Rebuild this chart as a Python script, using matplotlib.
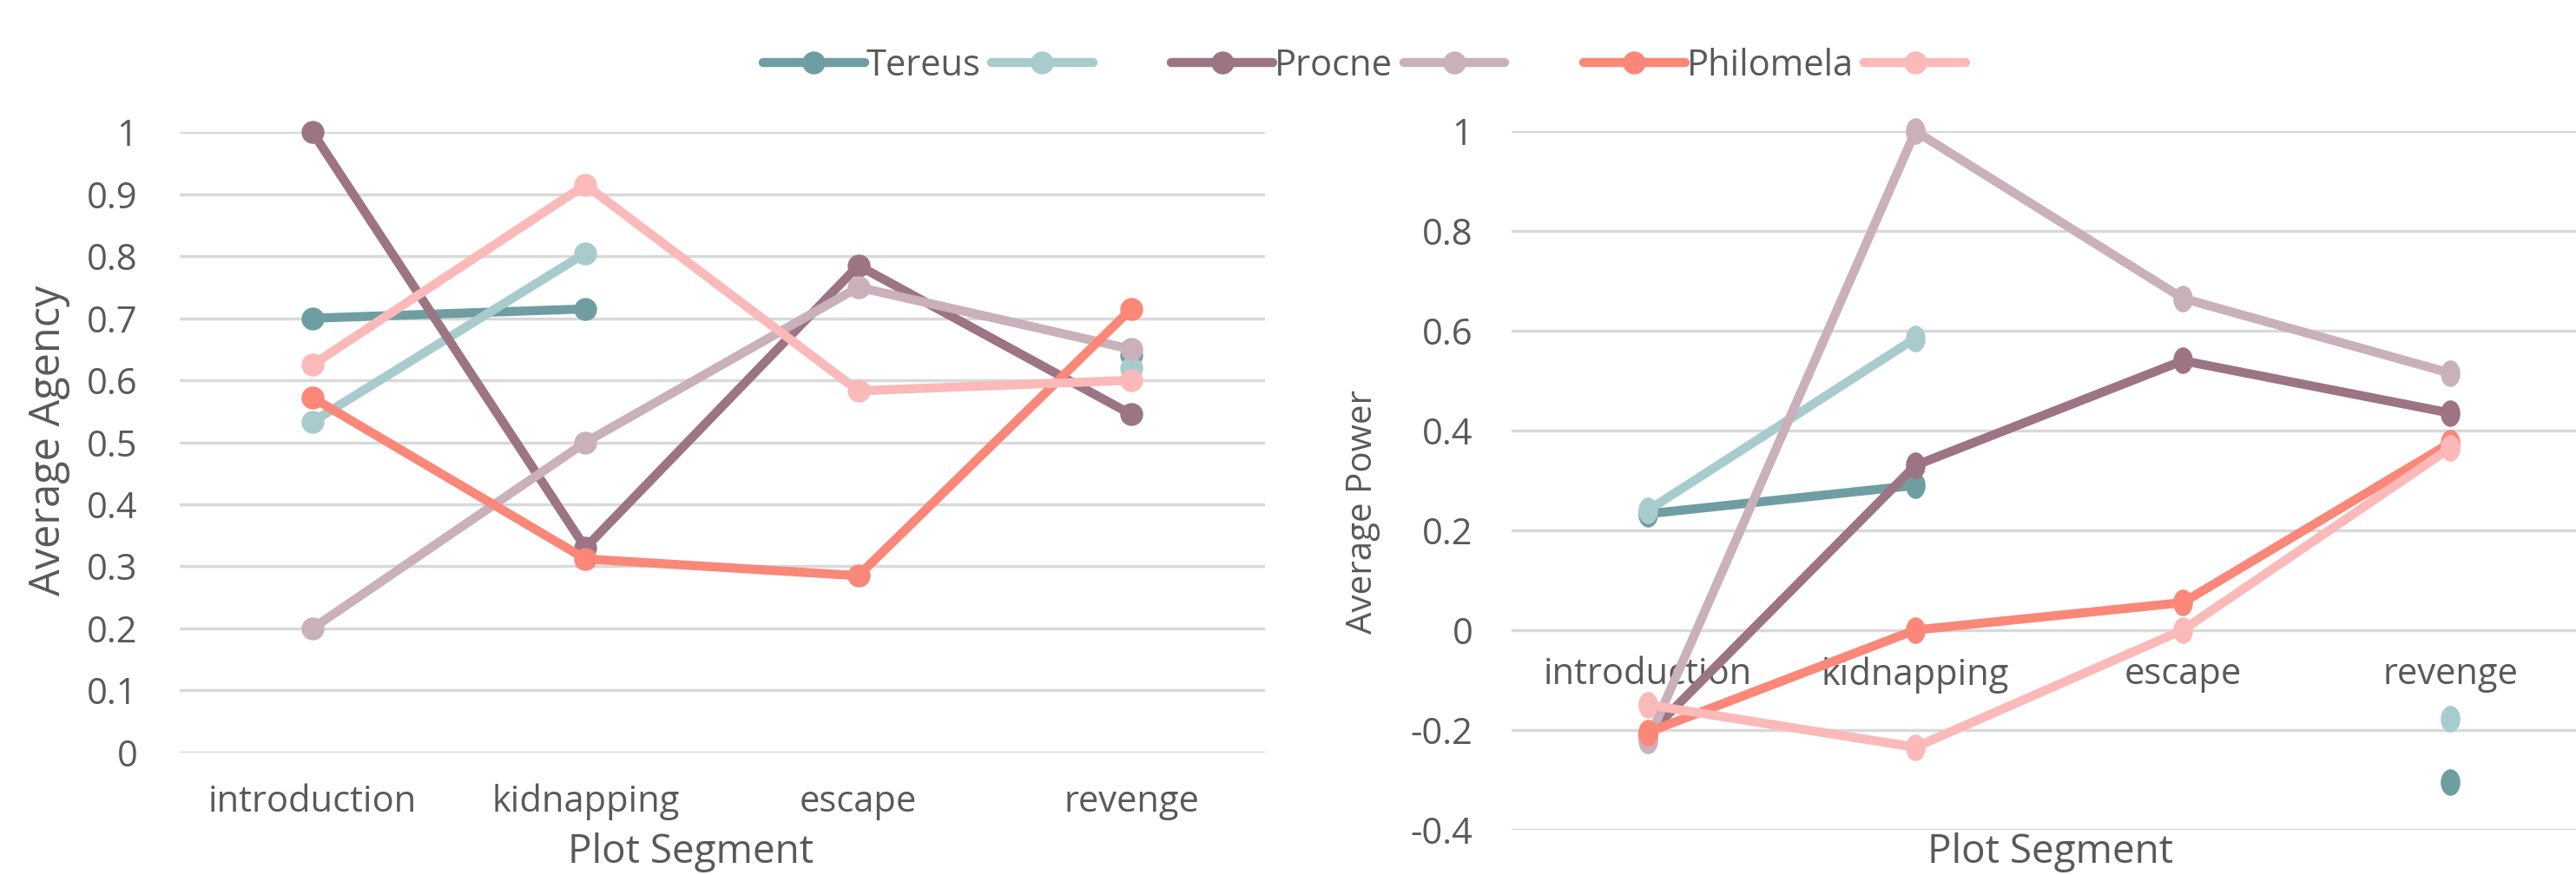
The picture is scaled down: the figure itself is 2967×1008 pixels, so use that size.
import numpy as np
import matplotlib.pyplot as plt
from matplotlib.path import Path

plt.rcParams['font.family'] = ['Open Sans', 'DejaVu Sans']

segments = ['introduction', 'kidnapping', 'escape', 'revenge']
names = ['Tereus', '       ', 'Procne', '       ', 'Philomela', '']
colors = ['#6E9EA2', '#A8CBCE', '#9C7484', '#C9B0BA', '#FA8778', '#FBB9B9']

# average agency per plot segment (nan = no data)
agency_tereus = [0.70, 0.715, np.nan, 0.64]
agency_tereus_lt = [0.533, 0.805, np.nan, 0.62]
agency_procne = [1.0, 0.33, 0.785, 0.545]
agency_procne_lt = [0.20, 0.50, 0.75, 0.65]
agency_phil = [0.572, 0.312, 0.285, 0.715]
agency_phil_lt = [0.625, 0.915, 0.583, 0.60]

# average power per plot segment
power_tereus = [0.233, 0.29, np.nan, -0.305]
power_tereus_lt = [0.24, 0.585, np.nan, -0.178]
power_procne = [-0.21, 0.33, 0.54, 0.435]
power_procne_lt = [-0.222, 1.0, 0.665, 0.515]
power_phil = [-0.205, 0.0, 0.055, 0.375]
power_phil_lt = [-0.15, -0.235, 0.0, 0.365]

agency = [agency_tereus, agency_tereus_lt, agency_procne, agency_procne_lt, agency_phil, agency_phil_lt]
power = [power_tereus, power_tereus_lt, power_procne, power_procne_lt, power_phil, power_phil_lt]

txt = '#595959'
grid = '#D9D9D9'
x = np.arange(len(segments))

# slightly tall markers on the right chart (it is squashed sideways)
uc = Path.unit_circle()
tall = Path(uc.vertices * np.array([0.8, 1.1]), uc.codes)

fig = plt.figure(figsize=(29.67, 10.08), dpi=100)
ax1 = fig.add_axes([0.0698, 0.140, 0.4213, 0.709])
ax2 = fig.add_axes([0.5868, 0.052, 0.4132, 0.798])

lines = []
for vals, c in zip(agency, colors):
    l, = ax1.plot(x, vals, color=c, lw=7.5, marker='o', ms=18, clip_on=False,
                  solid_capstyle='round')
    lines.append(l)
for vals, c in zip(power, colors):
    ax2.plot(x, vals, color=c, lw=7.5, marker=tall, ms=21, clip_on=False,
             solid_capstyle='round')

ax1.set_xlim(-0.486, 3.49)
ax1.set_ylim(0, 1)
ax1.set_yticks(np.arange(0, 1.01, 0.1))
ax1.set_yticklabels(['0'] + ['%g' % v for v in np.arange(0.1, 1.0, 0.1)] + ['1'])
ax1.set_xticks(x)
ax1.set_xticklabels(segments)

ax2.set_xlim(-0.51, 3.47)
ax2.set_ylim(-0.4, 1)
ax2.set_yticks(np.arange(-0.4, 1.01, 0.2))
ax2.set_yticklabels(['-0.4', '-0.2', '0', '0.2', '0.4', '0.6', '0.8', '1'])
ax2.set_xticks(x)
ax2.set_xticklabels(segments)
ax2.spines['bottom'].set_position(('data', 0))

for ax in (ax1, ax2):
    for s in ax.spines.values():
        s.set_visible(False)
    ax.yaxis.grid(True, color=grid, lw=2.5)
    ax.set_axisbelow(True)
    ax.tick_params(length=0, labelsize=30, labelcolor=txt)
ax1.tick_params(axis='y', pad=35)
ax2.tick_params(axis='y', pad=32)
ax1.tick_params(axis='x', pad=26)
ax2.tick_params(axis='x', pad=22)

fig.text(0.019, 0.497, 'Average Agency', fontsize=35, color=txt, rotation=90,
         ha='center', va='center')
fig.text(0.529, 0.415, 'Average Power', fontsize=29, color=txt, rotation=90,
         ha='center', va='center')
fig.text(0.268, 0.003, 'Plot Segment', fontsize=33, color=txt, ha='center', va='bottom')
fig.text(0.796, 0.003, 'Plot Segment', fontsize=33, color=txt, ha='center', va='bottom')

fig.legend(lines, names, loc='center', bbox_to_anchor=(0.53, 0.925), ncol=6,
           frameon=False, fontsize=30, handlelength=2.8, handletextpad=0.05,
           columnspacing=0.3, labelcolor=txt)

fig.savefig('out.png', dpi=100)
